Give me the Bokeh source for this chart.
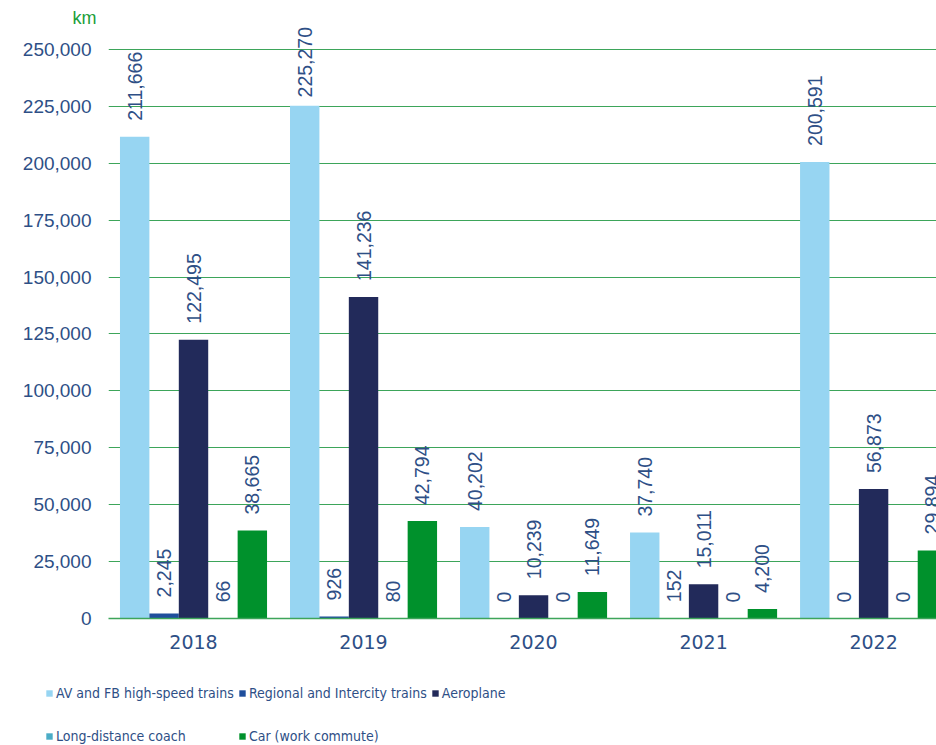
import math
from bokeh.plotting import figure
from bokeh.layouts import column
from bokeh.models import (ColumnDataSource, Range1d, FixedTicker, NumeralTickFormatter,
                          Legend, LegendItem, Title)
from bokeh.transform import dodge
from bokeh.core.properties import value
from bokeh.embed import file_html
from bokeh.resources import INLINE

years = ["2018", "2019", "2020", "2021", "2022"]
av_fb = [211666, 225270, 40202, 37740, 200591]
regional = [2245, 926, 0, 152, 0]
aeroplane = [122495, 141236, 10239, 15011, 56873]
coach = [66, 80, 0, 0, 0]
car = [38665, 42794, 11649, 4200, 29894]

series = [
    ("AV and FB high-speed trains", av_fb, "#97D5F2"),
    ("Regional and Intercity trains", regional, "#1F4E9C"),
    ("Aeroplane", aeroplane, "#222A5A"),
    ("Long-distance coach", coach, "#4BACC6"),
    ("Car (work commute)", car, "#00912C"),
]
y_ticks = [0, 25000, 50000, 75000, 100000, 125000, 150000, 175000, 200000, 225000, 250000]

TXT = "#2E4F86"
GREEN = "#3DA55A"
FONT = "Liberation Sans"
LABEL_CAP = 221900  # labels of taller bars are kept inside the plot area, as in the original

xs = [i + 0.5 for i in range(len(years))]

p = figure(width=936, height=660, output_backend="svg", toolbar_location=None,
           x_range=Range1d(0, 4.87), y_range=Range1d(0, 260105),
           min_border_left=108, min_border_right=0, min_border_top=26,
           min_border_bottom=42, frame_align=False)
p.outline_line_color = None

p.title = Title(text="km", align="left", offset=-36, standoff=-3,
                text_color="#1A9E3A", text_font=FONT, text_font_size="18px",
                text_font_style="normal")

bw = 0.173
offsets = [-2 * bw, -bw, 0, bw, 2 * bw]
for (name, vals, col), off in zip(series, offsets):
    src = ColumnDataSource(dict(x=xs, top=vals,
                                ly=[min(v, LABEL_CAP) for v in vals],
                                lab=[f"{v:,}" for v in vals]))
    p.vbar(x=dodge("x", off, range=p.x_range), top="top", width=bw,
           source=src, fill_color=col, line_color=None)
    p.text(x=dodge("x", off, range=p.x_range), y="ly", text="lab", source=src,
           angle=math.pi / 2, text_align="left", text_baseline="middle",
           y_offset=-16, text_color=TXT, text_font_size="19.5px",
           text_font=value(FONT))

# axes
p.yaxis.ticker = FixedTicker(ticks=y_ticks)
p.yaxis.formatter = NumeralTickFormatter(format="0,0")
p.yaxis.axis_line_color = None
p.yaxis.major_tick_line_color = None
p.yaxis.minor_tick_line_color = None
p.yaxis.major_label_text_color = TXT
p.yaxis.major_label_text_font = FONT
p.yaxis.major_label_text_font_size = "19px"
p.yaxis.major_label_standoff = 11

p.xaxis.ticker = FixedTicker(ticks=xs)
p.xaxis.major_label_overrides = {x: y for x, y in zip(xs, years)}
p.xaxis.axis_line_color = GREEN
p.xaxis.axis_line_width = 1.5
p.xaxis.major_tick_line_color = None
p.xaxis.minor_tick_line_color = None
p.xaxis.major_label_text_color = TXT
p.xaxis.major_label_text_font = "DejaVu Sans"
p.xaxis.major_label_text_font_size = "19px"
p.xaxis.major_label_standoff = 10

p.xgrid.grid_line_color = None
p.ygrid.ticker = FixedTicker(ticks=y_ticks)
p.ygrid.grid_line_color = GREEN
p.ygrid.grid_line_width = 1.2

# legend strip below the chart
pl = figure(width=936, height=85, output_backend="svg", toolbar_location=None,
            x_range=Range1d(0, 1), y_range=Range1d(0, 1),
            x_axis_location=None, y_axis_location=None,
            min_border=0, min_border_left=0, min_border_right=0,
            min_border_top=0, min_border_bottom=0, frame_align=False)
pl.outline_line_color = None
pl.grid.grid_line_color = None
items = []
for name, vals, col in series:
    r = pl.vbar(x=[-10], top=[0], width=0.1, fill_color=col, line_color=None)
    items.append(LegendItem(label=name, renderers=[r]))

legend = Legend(items=items, ncols=3, orientation="horizontal", location=(45, -10),
                glyph_width=8, glyph_height=8, label_standoff=3, spacing=4,
                label_height=39, padding=0, margin=0,
                border_line_color=None, background_fill_alpha=0,
                label_text_color=TXT, label_text_font="DejaVu Sans Condensed",
                label_text_font_size="14px")
pl.add_layout(legend, "center")

open("out.html", "w").write(file_html(column(p, pl, spacing=0), INLINE))
